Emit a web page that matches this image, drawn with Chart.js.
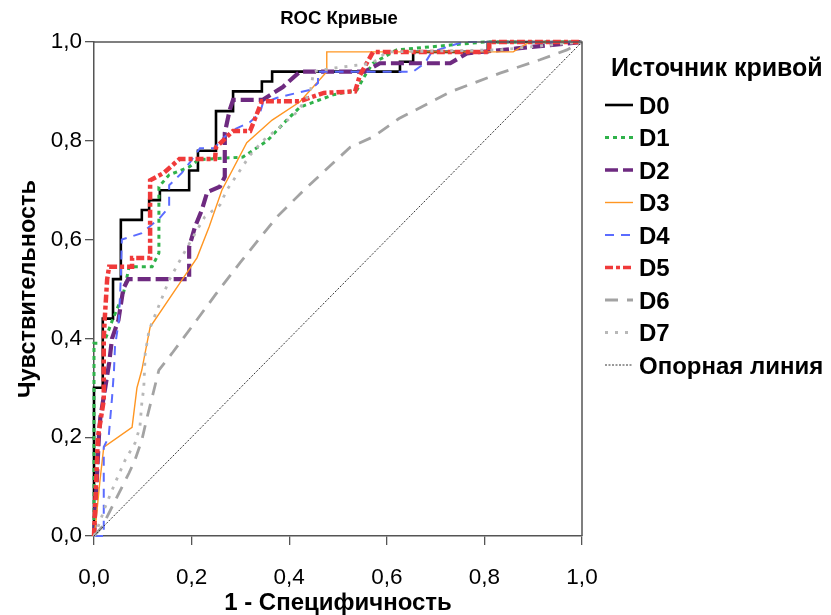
<!DOCTYPE html>
<html>
<head>
<meta charset="utf-8">
<script src="https://cdn.jsdelivr.net/npm/chart.js@4.4.1/dist/chart.umd.min.js"></script>
<style>
  html, body { margin: 0; padding: 0; background: #fff; }
  #wrap { width: 831px; height: 615px; }
</style>
</head>
<body>
<div id="wrap"><canvas id="roc" width="831" height="615"></canvas></div>
<script>
// ROC curves: 1 - specificity (x) vs. sensitivity (y)
const chartTitle = 'ROC Кривые';
const xTitle = '1 - Специфичность';
const yTitle = 'Чувствительность';
const legendTitle = 'Источник кривой';
const seriesNames = ['D0', 'D1', 'D2', 'D3', 'D4', 'D5', 'D6', 'D7'];
const refName = 'Опорная линия';
const tickValues = [0, 0.2, 0.4, 0.6, 0.8, 1.0];
const tickLabels = ['0,0', '0,2', '0,4', '0,6', '0,8', '1,0'];

const d0X = [0,0,0.018,0.018,0.039,0.039,0.055,0.055,0.098,0.098,0.113,0.113,0.135,0.135,0.195,0.195,0.213,0.213,0.25,0.25,0.285,0.285,0.344,0.344,0.365,0.365,0.627,0.627,0.654,0.654,0.807,0.807,1];
const d0Y = [0,0.30,0.30,0.44,0.44,0.52,0.52,0.64,0.64,0.66,0.66,0.68,0.68,0.70,0.70,0.74,0.74,0.78,0.78,0.86,0.86,0.90,0.90,0.92,0.92,0.94,0.94,0.96,0.96,0.98,0.98,1,1];

const d1X = [0,0,0.02,0.037,0.06,0.072,0.119,0.133,0.133,0.154,0.195,0.215,0.305,0.355,0.395,0.422,0.49,0.539,0.55,0.56,0.572,0.62,0.8,1];
const d1Y = [0,0.39,0.39,0.435,0.49,0.545,0.545,0.573,0.707,0.731,0.747,0.762,0.767,0.80,0.842,0.868,0.893,0.903,0.923,0.94,0.957,0.984,1,1];

const d2X = [0,0.005,0.01,0.013,0.023,0.031,0.037,0.05,0.06,0.07,0.195,0.195,0.207,0.221,0.232,0.258,0.268,0.268,0.278,0.285,0.346,0.387,0.422,0.555,0.586,0.73,0.764,0.867,1];
const d2Y = [0,0.10,0.20,0.24,0.30,0.35,0.40,0.437,0.50,0.52,0.52,0.585,0.626,0.66,0.696,0.707,0.727,0.816,0.862,0.883,0.883,0.909,0.94,0.94,0.957,0.957,0.977,0.987,1];

const d3X = [0,0.004,0.012,0.02,0.078,0.088,0.098,0.115,0.18,0.211,0.236,0.262,0.313,0.365,0.422,0.477,0.477,0.859,0.893,1];
const d3Y = [0,0.03,0.11,0.18,0.22,0.30,0.336,0.423,0.518,0.563,0.626,0.70,0.796,0.842,0.879,0.94,0.98,0.98,1,1];

const d4X = [0,0.02,0.02,0.03,0.037,0.041,0.043,0.051,0.055,0.057,0.098,0.135,0.154,0.154,0.18,0.197,0.217,0.248,0.258,0.285,0.32,0.34,0.346,0.375,0.416,0.443,0.459,0.459,0.654,0.678,0.692,0.756,1];
const d4Y = [0,0,0.18,0.2,0.28,0.336,0.383,0.437,0.524,0.60,0.613,0.644,0.666,0.71,0.735,0.757,0.785,0.785,0.80,0.822,0.838,0.856,0.876,0.887,0.897,0.903,0.917,0.94,0.94,0.957,0.98,1,1];

const d5X = [0,0.004,0.008,0.02,0.02,0.022,0.027,0.031,0.078,0.078,0.115,0.115,0.143,0.175,0.248,0.25,0.285,0.32,0.344,0.422,0.471,0.535,0.545,0.572,0.81,0.81,1];
const d5Y = [0,0.10,0.20,0.275,0.40,0.44,0.52,0.545,0.545,0.563,0.563,0.72,0.735,0.763,0.763,0.787,0.82,0.82,0.88,0.88,0.897,0.90,0.933,0.98,0.98,1,1];

const d6X = [0,0.016,0.037,0.072,0.084,0.098,0.109,0.123,0.133,0.16,0.2,0.25,0.299,0.375,0.43,0.49,0.525,0.572,0.625,0.73,0.832,0.914,0.969,1];
const d6Y = [0,0.018,0.059,0.128,0.154,0.194,0.241,0.296,0.336,0.37,0.423,0.49,0.553,0.646,0.70,0.755,0.787,0.808,0.845,0.899,0.937,0.964,0.984,1];

const d7X = [0,0.006,0.023,0.043,0.064,0.084,0.094,0.098,0.102,0.105,0.113,0.154,0.18,0.2,0.227,0.258,0.272,0.32,0.346,0.381,0.416,0.443,0.45,0.49,0.57,0.6,0.83,1];
const d7Y = [0,0.012,0.059,0.107,0.154,0.188,0.22,0.269,0.30,0.37,0.417,0.518,0.565,0.60,0.646,0.67,0.70,0.771,0.80,0.828,0.858,0.897,0.94,0.947,0.957,0.98,0.984,1];

const refX = [0, 1];
const refY = [0, 1];

// line styles per curve
const styles = [
  { color: '#000000', width: 2.6, dash: [] },
  { color: '#2fb24a', width: 3,   dash: [4, 4] },
  { color: '#6e2a80', width: 4.2, dash: [13, 5] },
  { color: '#ff9622', width: 1.4, dash: [] },
  { color: '#5b6cff', width: 2,   dash: [9, 7] },
  { color: '#f03a3a', width: 4.5, dash: [8, 3, 4, 3] },
  { color: '#a3a3a3', width: 2.8, dash: [13, 9] },
  { color: '#b8b8b8', width: 2.8, dash: [3, 7] },
  { color: '#333333', width: 1,   dash: [2, 1.5] }
];

const xs = [d0X, d1X, d2X, d3X, d4X, d5X, d6X, d7X, refX];
const ys = [d0Y, d1Y, d2Y, d3Y, d4Y, d5Y, d6Y, d7Y, refY];
const names = seriesNames.concat([refName]);

const datasets = names.map((name, i) => ({
  label: name,
  data: xs[i].map((x, k) => ({ x: x, y: ys[i][k] })),
  borderColor: styles[i].color,
  backgroundColor: styles[i].color,
  borderWidth: styles[i].width,
  borderDash: styles[i].dash,
  pointRadius: 0,
  tension: 0,
  fill: false,
  clip: 6,
  order: names.length - i
}));

const FONT = '"Liberation Sans", Arial, sans-serif';
const AXIS_COLOR = '#555555';

// frame, title and legend drawn around the plot
const decorations = {
  id: 'decorations',
  afterDatasetsDraw(chart) {
    const { ctx, chartArea: a } = chart;
    ctx.save();
    ctx.strokeStyle = AXIS_COLOR;
    ctx.lineWidth = 1.5;
    ctx.setLineDash([]);
    ctx.beginPath();
    ctx.moveTo(a.left, a.top);
    ctx.lineTo(a.right, a.top);
    ctx.lineTo(a.right, a.bottom);
    ctx.stroke();
    ctx.restore();
  },
  afterDraw(chart) {
    const { ctx, chartArea: a } = chart;
    ctx.save();
    ctx.fillStyle = '#000';
    ctx.textBaseline = 'middle';
    ctx.textAlign = 'center';
    ctx.font = 'bold 18.5px ' + FONT;
    ctx.fillText(chartTitle, (a.left + a.right) / 2 + 1, 19);

    ctx.textAlign = 'left';
    ctx.font = 'bold 25px ' + FONT;
    ctx.fillText(legendTitle, 611, 69);

    ctx.font = 'bold 24px ' + FONT;
    chart.data.datasets.forEach((ds, i) => {
      const y = 105 + i * 32.5;
      ctx.save();
      ctx.strokeStyle = ds.borderColor;
      ctx.lineWidth = Math.min(ds.borderWidth, 3.5);
      ctx.setLineDash(ds.borderDash);
      ctx.beginPath();
      ctx.moveTo(605, y);
      ctx.lineTo(633, y);
      ctx.stroke();
      ctx.restore();
      ctx.fillText(ds.label, 639, y + 2);
    });
    ctx.restore();
  }
};

function fixTicks(scale) {
  scale.ticks = tickValues.map(v => ({ value: v }));
}
function tickText(value) {
  const i = tickValues.findIndex(t => Math.abs(t - value) < 1e-6);
  return i >= 0 ? tickLabels[i] : '';
}

new Chart(document.getElementById('roc'), {
  type: 'line',
  data: { datasets: datasets },
  plugins: [decorations],
  options: {
    responsive: false,
    animation: false,
    devicePixelRatio: 1,
    layout: { padding: { top: 42, right: 249, bottom: 0, left: 0 } },
    plugins: {
      legend: { display: false },
      title: { display: false },
      tooltip: { enabled: false }
    },
    scales: {
      x: {
        type: 'linear',
        min: 0, max: 1,
        afterBuildTicks: fixTicks,
        afterFit(scale) { scale.height = 79; },
        grid: { drawOnChartArea: false, drawTicks: true, tickLength: 9, color: AXIS_COLOR, lineWidth: 1.3 },
        border: { display: true, color: AXIS_COLOR, width: 1.5 },
        ticks: { callback: tickText, color: '#000', font: { family: FONT, size: 22.5 }, padding: 19, maxRotation: 0 },
        title: { display: true, text: xTitle, color: '#000', font: { family: FONT, size: 24, weight: 'bold', lineHeight: 1 }, padding: { top: 0, bottom: 0 } }
      },
      y: {
        type: 'linear',
        min: 0, max: 1,
        afterBuildTicks: fixTicks,
        afterFit(scale) { scale.width = 94; },
        grid: { drawOnChartArea: false, drawTicks: true, tickLength: 9, color: AXIS_COLOR, lineWidth: 1.3 },
        border: { display: true, color: AXIS_COLOR, width: 1.5 },
        ticks: { callback: tickText, color: '#000', font: { family: FONT, size: 22.5 }, padding: 3 },
        title: { display: true, text: yTitle, color: '#000', font: { family: FONT, size: 23.5, weight: 'bold', lineHeight: 1 }, padding: { top: 16.5, bottom: 0 } }
      }
    }
  }
});
</script>
</body>
</html>
